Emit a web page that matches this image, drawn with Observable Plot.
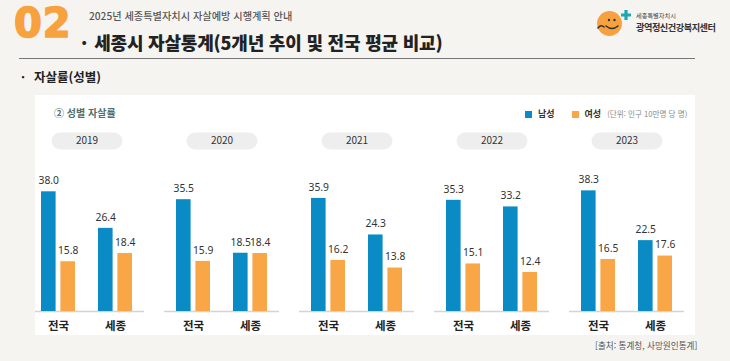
<!DOCTYPE html>
<html lang="ko">
<head>
<meta charset="utf-8">
<script src="https://cdn.jsdelivr.net/npm/d3@7"></script>
<script src="https://cdn.jsdelivr.net/npm/@observablehq/plot@0.6"></script>
<style>
  html, body { margin: 0; padding: 0; }
  body { width: 730px; height: 361px; background: #f5f4f1; position: relative; overflow: hidden;
         font-family: "Noto Sans CJK KR", "Noto Sans", sans-serif; color: #222; }
  .abs { position: absolute; white-space: nowrap; }
  #num { left: 14px; top: 0px; font-family: "DejaVu Sans", sans-serif; font-size: 40px; font-weight: 700; color: #f7a23e; letter-spacing: 1px; line-height: 47px; -webkit-text-stroke: 1.6px #f7a23e; }
  #sub { left: 89px; top: 9px; font-size: 10.2px; color: #555; font-weight: 500; line-height: 14px; }
  #title { left: 81px; top: 30px; font-size: 18px; font-weight: 900; color: #222; line-height: 24px; letter-spacing: -0.2px; }
  .dot { display: inline-block; margin-right: 7px; }
  #hline { left: 19px; top: 58px; width: 676px; height: 1px; background: #777; }
  #sec { left: 21px; top: 68px; font-size: 12.5px; font-weight: 700; color: #222; line-height: 18px; }
  #sec .dot { margin-right: 9px; }
  #panel { left: 35px; top: 95px; width: 660px; height: 240px; background: #fff; overflow: hidden; }
  #ptitle { left: 19px; top: 11px; font-size: 10px; font-weight: 700; color: #4f6e6e; line-height: 14px; }
  #legend { left: 490px; top: 12px; font-size: 9px; line-height: 14px; display: flex; align-items: center; }
  .sw { display: inline-block; width: 7px; height: 7px; margin-right: 6px; }
  .lab { font-weight: 700; color: #333; margin-right: 17px; }
  .unit { font-size: 7.6px; color: #888; }
  #chart { position: absolute; left: -35px; top: 25px; width: 730px; }
  #chart svg { max-width: none !important; }
  #src { left: 595px; top: 339px; font-size: 8.6px; color: #555; line-height: 12px; }
  #logo { left: 594px; top: 6px; }
  #logo1 { left: 636px; top: 11px; font-size: 6.2px; color: #444; line-height: 9px; }
  #logo2 { left: 636px; top: 21px; font-size: 9.2px; font-weight: 700; color: #333; line-height: 13px; letter-spacing: -0.5px; }
</style>
</head>
<body>
<div id="num" class="abs">02</div>
<div id="sub" class="abs">2025년 세종특별자치시 자살예방 시행계획 안내</div>
<div id="title" class="abs"><span class="dot">·</span>세종시 자살통계(5개년 추이 및 전국 평균 비교)</div>
<div id="hline" class="abs"></div>
<div id="sec" class="abs"><span class="dot">·</span>자살률(성별)</div>
<svg id="logo" class="abs" width="40" height="34" viewBox="0 0 40 34">
  <circle cx="15.5" cy="17.5" r="12.5" fill="#f7a23e"/>
  <path d="M4 22 q3 -4 6 -1" stroke="#333" stroke-width="1.6" fill="none" stroke-linecap="round"/>
  <circle cx="15" cy="14" r="1.2" fill="#333"/>
  <circle cx="20.5" cy="14" r="1.2" fill="#333"/>
  <path d="M12 20 q6 5 12 0" stroke="#333" stroke-width="1.6" fill="none" stroke-linecap="round"/>
  <path d="M32 4 v10 M27 9 h10" stroke="#1aa9b3" stroke-width="3.2"/>
</svg>
<div id="logo1" class="abs">세종특별자치시</div>
<div id="logo2" class="abs">광역정신건강복지센터</div>
<div id="panel" class="abs">
  <div id="ptitle" class="abs">② 성별 자살률</div>
  <div id="legend" class="abs">
    <span class="sw" style="background:#0a8bc5"></span><span class="lab">남성</span>
    <span class="sw" style="background:#f8a646"></span><span class="lab" style="margin-right:6px">여성</span>
    <span class="unit">(단위: 인구 10만명 당 명)</span>
  </div>
  <div id="chart"></div>
</div>
<div id="src" class="abs">[출처: 통계청, 사망원인통계]</div>
<script>
// ---- data ----
const years = ["2019", "2020", "2021", "2022", "2023"];
const regions = ["전국", "세종"];
const sexes = ["남성", "여성"];
const maleNational = [38.0, 35.5, 35.9, 35.3, 38.3];
const femaleNational = [15.8, 15.9, 16.2, 15.1, 16.5];
const maleSejong = [26.4, 18.5, 24.3, 33.2, 22.5];
const femaleSejong = [18.4, 18.4, 13.8, 12.4, 17.6];

const rows = [];
years.forEach((y, i) => {
  rows.push({year: y, region: "전국", sex: "남성", value: maleNational[i]});
  rows.push({year: y, region: "전국", sex: "여성", value: femaleNational[i]});
  rows.push({year: y, region: "세종", sex: "남성", value: maleSejong[i]});
  rows.push({year: y, region: "세종", sex: "여성", value: femaleSejong[i]});
});
const male = rows.filter(d => d.sex === "남성");
const female = rows.filter(d => d.sex === "여성");

const BLUE = "#0a8bc5", ORANGE = "#f8a646";
const half = 19.4, off = 9.7;

const chart = Plot.plot({
  width: 730,
  height: 225,
  marginLeft: 27,
  marginRight: 43,
  marginTop: 8,
  marginBottom: 34,
  style: {fontFamily: "'Noto Sans CJK KR', 'Noto Sans', sans-serif", background: "transparent", overflow: "visible", maxWidth: "none"},
  fx: {domain: years, paddingInner: 0.147, paddingOuter: 0, axis: null, label: null},
  x: {domain: regions, paddingInner: 0.397, paddingOuter: 0.207, label: null},
  y: {domain: [0, 58.1], axis: null},
  marks: [
    Plot.frame({fill: "#eeeeee", stroke: "none", rx: 9, insetTop: 4, insetBottom: 162, insetLeft: 22, insetRight: 22}),
    Plot.text(years, {fx: d => d, text: d => d, frameAnchor: "top", dy: 12.5, lineAnchor: "middle", fontSize: 10, fill: "#333"}),
    Plot.ruleY([0], {stroke: "#d4d4d4", strokeWidth: 1.5}),
    Plot.barY(male, {fx: "year", x: "region", y: "value", fill: BLUE, insetRight: half, insetLeft: 0}),
    Plot.barY(female, {fx: "year", x: "region", y: "value", fill: ORANGE, insetLeft: half, insetRight: 0}),
    Plot.text(male, {fx: "year", x: "region", y: "value", text: d => d.value.toFixed(1), dx: -off, dy: -11, lineAnchor: "middle", fontSize: 10.3, fill: "#333", fontFamily: "'Noto Sans', sans-serif"}),
    Plot.text(female, {fx: "year", x: "region", y: "value", text: d => d.value.toFixed(1), dx: off, dy: -11, lineAnchor: "middle", fontSize: 10.3, fill: "#333", fontFamily: "'Noto Sans', sans-serif"}),
    Plot.axisX({tickSize: 0, tickPadding: 10, fontSize: 11.5, fontWeight: 700, fill: "#222", label: null})
  ]
});
document.getElementById("chart").appendChild(chart);
</script>
</body>
</html>
